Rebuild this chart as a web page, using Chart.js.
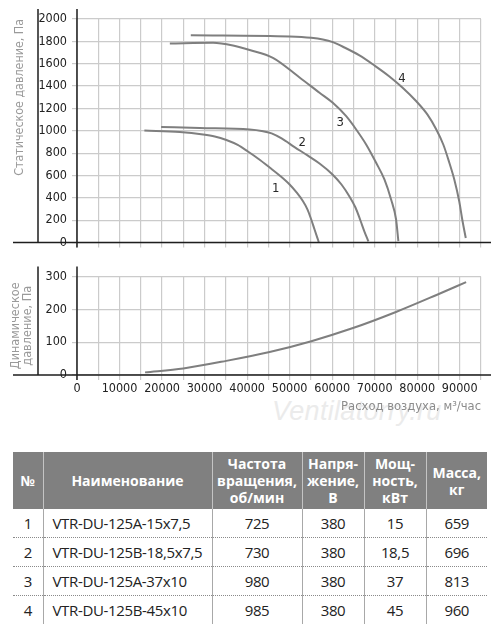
<!DOCTYPE html>
<html><head><meta charset="utf-8">
<script src="https://cdn.jsdelivr.net/npm/chart.js@4.4.1/dist/chart.umd.min.js"></script>
<style>
html,body{margin:0;padding:0;background:#fff;width:500px;height:624px;overflow:hidden;position:relative;}
#c1{position:absolute;left:0;top:0;}
#c2{position:absolute;left:0;top:250px;}
#wm{position:absolute;left:272px;top:396px;font:italic 27px "Liberation Sans",sans-serif;color:#ebebeb;white-space:nowrap;letter-spacing:0.3px;}
table{position:absolute;left:13px;top:452px;width:474px;border-collapse:collapse;table-layout:fixed;font-family:"Open Sans",sans-serif;}
th{background:#808080;color:#fff;font-weight:700;font-size:14px;line-height:17px;height:57px;padding:0;text-align:center;border-left:1px solid #c4c4c4;}
th:first-child{border-left:none;}
td{font-size:15px;letter-spacing:-0.35px;color:#222;height:28px;padding:0;text-align:center;border-left:1px solid #a8a8a8;border-top:1px dotted #8a8a8a;}
td:first-child{border-left:none;}
tbody tr:first-child td{border-top:none;}
td.name{text-align:left;padding-left:9px;}
</style>
</head>
<body>
<div id="wm">Ventilatorry.ru</div>
<canvas id="c1" width="500" height="255"></canvas>
<canvas id="c2" width="500" height="175"></canvas>
<table id="tbl">
<colgroup><col style="width:30px"><col style="width:169px"><col style="width:90px"><col style="width:62px"><col style="width:62px"><col style="width:61px"></colgroup>
<thead><tr id="hdr"></tr></thead>
<tbody id="tb"></tbody>
</table>
<script>
// ---- data ----
const curve1X = [15840, 24170, 29640, 32390, 35130, 37790, 40200, 42710, 45300, 47650, 50000, 51630, 53110, 54210, 55080, 55860, 56850];
const curve1Y = [1002, 989, 967, 949, 917, 873, 814, 747, 671, 600, 519, 448, 371, 295, 206, 116, 4];
const curve2X = [19790, 28870, 40600, 43420, 45770, 48110, 51160, 54210, 57030, 60080, 62190, 64070, 65480, 66650, 67590, 68530];
const curve2Y = [1034, 1025, 1011, 998, 976, 931, 854, 779, 707, 609, 519, 412, 313, 197, 98, 9];
const curve3X = [21830, 31990, 36680, 40600, 46070, 52340, 57030, 60150, 63300, 65650, 67990, 70340, 72290, 73860, 75030, 75570];
const curve3Y = [1781, 1787, 1763, 1723, 1653, 1477, 1340, 1250, 1130, 1011, 877, 713, 564, 385, 206, 12];
const curve4X = [26760, 49990, 55080, 57810, 60150, 62900, 66420, 69940, 73460, 76510, 79730, 82380, 84490, 86130, 87540, 88720, 89890, 90590, 91420];
const curve4Y = [1855, 1844, 1832, 1817, 1793, 1745, 1674, 1584, 1486, 1387, 1266, 1146, 1011, 877, 716, 564, 367, 206, 40];
const curveLabels = ['1', '2', '3', '4'];
const curveLabelX = [46700, 52970, 61890, 76440];
const curveLabelY = [483, 892, 1077, 1468];

const dynX = [16000, 25000, 35100, 45300, 55100, 64900, 75000, 84400, 91500];
const dynY = [8, 20, 43, 70, 103, 143, 192, 243, 283];

const xTickLabels = ['0','10000','20000','30000','40000','50000','60000','70000','80000','90000'];
const staticTitle = 'Статическое давление, Па';
const dynTitle = ['Динамическое', 'давление, Па'];
const xTitle = 'Расход воздуха, м³/час';

const tableHeaders = ['№', 'Наименование', 'Частота<br>вращения,<br>об/мин', 'Напря-<br>жение,<br>В', 'Мощ-<br>ность,<br>кВт', 'Масса,<br>кг'];
const rowNums = ['1', '2', '3', '4'];
const rowNames = ['VTR-DU-125A-15x7,5', 'VTR-DU-125B-18,5x7,5', 'VTR-DU-125A-37x10', 'VTR-DU-125B-45x10'];
const rowRpm = ['725', '730', '980', '985'];
const rowVolt = ['380', '380', '380', '380'];
const rowPower = ['15', '18,5', '37', '45'];
const rowMass = ['659', '696', '813', '960'];

// ---- table ----
document.getElementById('hdr').innerHTML = tableHeaders.map(h => '<th>' + h + '</th>').join('');
document.getElementById('tb').innerHTML = rowNums.map((n, i) =>
  '<tr><td>' + n + '</td><td class="name">' + rowNames[i] + '</td><td>' + rowRpm[i] + '</td><td>' +
  rowVolt[i] + '</td><td>' + rowPower[i] + '</td><td>' + rowMass[i] + '</td></tr>').join('');

// ---- font selection ----
const mctx = document.createElement('canvas').getContext('2d');
function hasFont(f) {
  const s = 'Статическое давление 2000 Wmi';
  mctx.font = '20px monospace'; const a = mctx.measureText(s).width;
  mctx.font = "20px '" + f + "', monospace"; const b = mctx.measureText(s).width;
  mctx.font = '20px serif'; const c = mctx.measureText(s).width;
  mctx.font = "20px '" + f + "', serif"; const d = mctx.measureText(s).width;
  return a !== b && c !== d;
}
const narrowName = ['Liberation Sans Narrow', 'DejaVu Sans Condensed', 'Roboto Condensed', 'Roboto', 'Liberation Sans']
  .find(hasFont) || 'sans-serif';
const NARROW = "'" + narrowName + "', sans-serif";
function fitSize(text, target, maxSize) {
  mctx.font = '20px ' + NARROW;
  const w = mctx.measureText(text).width;
  return Math.max(11, Math.min(maxSize, 20 * target / w));
}
const staticTitleSize = fitSize(staticTitle, 157, 15);
const dynTitleSize = fitSize(dynTitle[0], 87, 14);
const xTitleSize = fitSize(xTitle, 140, 14);

// ---- charts ----
const LINE_COLOR = '#7f7f7f';
const GRID_COLOR = '#cbcbcb';
const pts = (xs, ys) => xs.map((x, i) => ({x: x, y: ys[i]}));

const axesPlugin = {
  id: 'axesLines',
  afterDraw(chart) {
    const {ctx, chartArea: a} = chart;
    ctx.save();
    ctx.strokeStyle = '#1e1e1e';
    ctx.lineWidth = 1.5;
    ctx.beginPath();
    ctx.moveTo(13, a.bottom); ctx.lineTo(a.right + 10, a.bottom);
    ctx.moveTo(a.left, a.top - 10); ctx.lineTo(a.left, a.bottom + 5);
    ctx.moveTo(38, a.top - 10); ctx.lineTo(38, a.bottom);
    ctx.stroke();
    ctx.restore();
  }
};

const curveLabelPlugin = {
  id: 'curveLabels',
  afterDatasetsDraw(chart) {
    const {ctx, scales: {x, y}} = chart;
    ctx.save();
    ctx.fillStyle = '#2a2a2a';
    ctx.font = "13px " + NARROW;
    ctx.textAlign = 'center';
    ctx.textBaseline = 'middle';
    curveLabels.forEach((t, i) => {
      ctx.fillText(t, x.getPixelForValue(curveLabelX[i]), y.getPixelForValue(curveLabelY[i]));
    });
    ctx.restore();
  }
};

const ds = (data) => ({
  data: data, borderColor: LINE_COLOR, borderWidth: 2, pointRadius: 0,
  showLine: true, fill: false, cubicInterpolationMode: 'monotone'
});

const tickFont = {family: NARROW, size: 12.5};
const plainTick = v => String(v);

new Chart(document.getElementById('c1'), {
  type: 'scatter',
  data: {datasets: [ds(pts(curve1X, curve1Y)), ds(pts(curve2X, curve2Y)), ds(pts(curve3X, curve3Y)), ds(pts(curve4X, curve4Y))]},
  options: {
    responsive: false, animation: false,
    layout: {padding: {top: 19, right: 19, left: 0, bottom: 0}},
    plugins: {legend: {display: false}, tooltip: {enabled: false}},
    scales: {
      x: {
        type: 'linear', min: 0, max: 95000,
        ticks: {stepSize: 5000, display: false},
        grid: {color: GRID_COLOR, lineWidth: 1.2, tickLength: 5},
        border: {display: false},
        afterFit: s => { s.height = 12; }
      },
      y: {
        type: 'linear', min: 0, max: 2000,
        ticks: {stepSize: 200, color: '#222', font: tickFont, padding: 5, callback: plainTick},
        grid: {color: GRID_COLOR, lineWidth: 1.2, tickLength: 5},
        border: {display: false},
        title: {display: true, text: staticTitle, align: 'end', color: '#9a9a9a',
                font: {family: NARROW, size: staticTitleSize}, padding: {top: 12, bottom: 0}},
        afterFit: s => { s.width = 77; }
      }
    }
  },
  plugins: [axesPlugin, curveLabelPlugin]
});

new Chart(document.getElementById('c2'), {
  type: 'scatter',
  data: {datasets: [ds(pts(dynX, dynY))]},
  options: {
    responsive: false, animation: false,
    layout: {padding: {top: 26.5, right: 19, left: 0, bottom: 0}},
    plugins: {legend: {display: false}, tooltip: {enabled: false}},
    scales: {
      x: {
        type: 'linear', min: 0, max: 95000,
        ticks: {stepSize: 5000, color: '#222', font: tickFont, padding: 1, maxRotation: 0, autoSkip: false,
                callback: v => { const s = String(v); return xTickLabels.includes(s) ? s : ''; }},
        grid: {color: GRID_COLOR, lineWidth: 1.2, tickLength: 5},
        border: {display: false},
        title: {display: true, text: xTitle, align: 'end', color: '#8c8c8c',
                font: {family: NARROW, size: xTitleSize}, padding: {top: 0, bottom: 10.6}},
        afterFit: s => { s.height = 50; }
      },
      y: {
        type: 'linear', min: 0, max: 300,
        ticks: {stepSize: 100, color: '#222', font: tickFont, padding: 5, callback: plainTick},
        grid: {color: GRID_COLOR, lineWidth: 1.2, tickLength: 5},
        border: {display: false},
        title: {display: true, text: dynTitle, align: 'center', color: '#9a9a9a',
                font: {family: NARROW, size: dynTitleSize, lineHeight: 1.0}, padding: {top: 9, bottom: 0}},
        afterFit: s => { s.width = 77; }
      }
    }
  },
  plugins: [axesPlugin]
});
</script>
</body></html>
